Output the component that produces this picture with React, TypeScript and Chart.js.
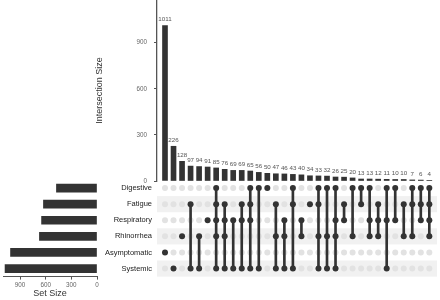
import React, { useEffect, useRef } from "react";
import { Chart, registerables } from "chart.js";
Chart.register(...registerables);

const FONT = "'Liberation Sans', Arial, Helvetica, sans-serif";

const setNames = ["Digestive", "Fatigue", "Respiratory", "Rhinorrhea", "Asymptomatic", "Systemic"];
const setSizes = [474, 626, 648, 673, 1011, 1075];

const intersectionSizes = [
  1011, 226, 128, 97, 94, 91, 85, 76, 69, 69, 65, 56, 50, 47, 46, 43,
  40, 34, 33, 32, 26, 25, 20, 13, 13, 12, 11, 10, 10, 7, 6, 4,
];

const intersectionSets: string[][] = [
  ["Asymptomatic"],
  ["Systemic"],
  ["Rhinorrhea"],
  ["Fatigue", "Systemic"],
  ["Rhinorrhea", "Systemic"],
  ["Respiratory"],
  ["Digestive", "Fatigue", "Respiratory", "Rhinorrhea", "Systemic"],
  ["Fatigue", "Respiratory", "Rhinorrhea", "Systemic"],
  ["Respiratory", "Systemic"],
  ["Fatigue", "Respiratory", "Systemic"],
  ["Digestive", "Fatigue", "Respiratory", "Systemic"],
  ["Digestive", "Systemic"],
  ["Digestive"],
  ["Fatigue", "Rhinorrhea", "Systemic"],
  ["Respiratory", "Rhinorrhea", "Systemic"],
  ["Digestive", "Fatigue", "Systemic"],
  ["Respiratory", "Rhinorrhea"],
  ["Fatigue"],
  ["Digestive", "Fatigue", "Rhinorrhea", "Systemic"],
  ["Digestive", "Rhinorrhea", "Systemic"],
  ["Digestive", "Respiratory", "Rhinorrhea", "Systemic"],
  ["Fatigue", "Respiratory"],
  ["Digestive", "Rhinorrhea"],
  ["Digestive", "Fatigue"],
  ["Digestive", "Respiratory", "Rhinorrhea"],
  ["Fatigue", "Respiratory", "Rhinorrhea"],
  ["Digestive", "Respiratory", "Systemic"],
  ["Digestive", "Respiratory"],
  ["Fatigue", "Rhinorrhea"],
  ["Digestive", "Fatigue", "Rhinorrhea"],
  ["Digestive", "Fatigue", "Respiratory"],
  ["Digestive", "Fatigue", "Respiratory", "Rhinorrhea"],
];

const intersectionTicks = [0, 300, 600, 900];
const setSizeTicks = [0, 300, 600, 900];

const X_MIN = -0.938;
const X_MAX = 31.9;

const DARK = "#333333";
const AXIS = "#555555";

const barLabelPlugin = {
  id: "barLabels",
  afterDatasetsDraw(chart: any) {
    const ctx = chart.ctx;
    const meta = chart.getDatasetMeta(0);
    ctx.save();
    ctx.font = `6.2px ${FONT}`;
    ctx.fillStyle = "#555";
    ctx.textAlign = "center";
    ctx.textBaseline = "bottom";
    meta.data.forEach((el: any, i: number) => {
      ctx.fillText(String(intersectionSizes[i]), el.x, el.y - 3);
    });
    ctx.restore();
  },
};

const stripePlugin = {
  id: "stripes",
  beforeDatasetsDraw(chart: any) {
    const { ctx, chartArea, scales } = chart;
    const y = scales.y;
    const h = Math.abs(y.getPixelForValue(1) - y.getPixelForValue(0));
    ctx.save();
    ctx.fillStyle = "#f1f1f1";
    setNames.forEach((_, i) => {
      if (i % 2 === 1) {
        const c = y.getPixelForValue(i);
        ctx.fillRect(chartArea.left, c - h / 2, chartArea.right - chartArea.left, h);
      }
    });
    ctx.restore();
  },
};

const noScalePadding = (s: any) => {
  s.paddingTop = 0;
  s.paddingBottom = 0;
  s.paddingLeft = 0;
  s.paddingRight = 0;
};

export default function App() {
  const barRef = useRef<HTMLCanvasElement>(null);
  const matRef = useRef<HTMLCanvasElement>(null);
  const setRef = useRef<HTMLCanvasElement>(null);

  useEffect(() => {
    Chart.defaults.font.family = FONT;

    const barChart = new Chart(barRef.current!, {
      type: "bar",
      data: {
        datasets: [
          {
            data: intersectionSizes.map((v, i) => ({ x: i, y: v })),
            backgroundColor: DARK,
            barThickness: 5,
          },
        ],
      },
      options: {
        responsive: false,
        animation: false,
        layout: { autoPadding: false, padding: { left: 94, right: 3, top: 0, bottom: 9 } },
        plugins: { legend: { display: false }, tooltip: { enabled: false } },
        scales: {
          x: { type: "linear", min: X_MIN, max: X_MAX, display: false, offset: false },
          y: {
            type: "linear",
            min: 0,
            max: 1178,
            afterBuildTicks: (s: any) => {
              s.ticks = intersectionTicks.map((v) => ({ value: v }));
            },
            afterFit: (s: any) => {
              s.width = 63;
              noScalePadding(s);
            },
            grid: { drawOnChartArea: false, drawTicks: true, tickLength: 3, color: AXIS },
            border: { display: true, color: AXIS, width: 1.3 },
            ticks: { padding: 7, color: "#666", font: { size: 6.3, family: FONT } },
            title: {
              display: true,
              text: "Intersection Size",
              color: "#333",
              font: { size: 9, family: FONT },
              padding: 0,
            },
          },
        },
      } as any,
      plugins: [barLabelPlugin],
    });

    const inactive: { x: number; y: number }[] = [];
    const active: { x: number; y: number }[] = [];
    const connectors: { x: number; y: [number, number] }[] = [];
    intersectionSets.forEach((sets, c) => {
      const rows = sets.map((s) => setNames.indexOf(s));
      setNames.forEach((_, r) => {
        if (rows.includes(r)) active.push({ x: c, y: r });
        else inactive.push({ x: c, y: r });
      });
      if (rows.length > 1) {
        connectors.push({ x: c, y: [Math.min(...rows), Math.max(...rows)] });
      }
    });

    const matChart = new Chart(matRef.current!, {
      type: "bar",
      data: {
        datasets: [
          {
            type: "scatter",
            data: active,
            backgroundColor: DARK,
            borderColor: DARK,
            pointRadius: 3,
            pointBorderWidth: 0,
            borderWidth: 0,
            order: 0,
          } as any,
          {
            type: "bar",
            data: connectors,
            backgroundColor: DARK,
            barThickness: 2,
            order: 1,
          } as any,
          {
            type: "scatter",
            data: inactive,
            backgroundColor: "#e2e2e2",
            borderColor: "#e2e2e2",
            pointRadius: 3,
            pointBorderWidth: 0,
            borderWidth: 0,
            order: 2,
          } as any,
        ],
      },
      options: {
        responsive: false,
        animation: false,
        layout: { autoPadding: false, padding: { left: 0, right: 3, top: 5, bottom: 8.4 } },
        plugins: { legend: { display: false }, tooltip: { enabled: false } },
        scales: {
          x: { type: "linear", min: X_MIN, max: X_MAX, display: false, offset: false },
          y: {
            type: "linear",
            min: -0.5,
            max: 5.5,
            reverse: true,
            offset: false,
            grid: { display: false, drawTicks: false },
            border: { display: false },
            afterBuildTicks: (s: any) => {
              s.ticks = setNames.map((_, i) => ({ value: i }));
            },
            afterFit: (s: any) => {
              s.width = 57;
              noScalePadding(s);
            },
            ticks: {
              padding: 5,
              color: "#222",
              font: { size: 7.5, family: FONT },
              callback: (v: any) => setNames[v],
            },
          },
        },
      } as any,
      plugins: [stripePlugin],
    });

    const setChart = new Chart(setRef.current!, {
      type: "bar",
      data: {
        datasets: [
          {
            data: setSizes.map((v, i) => ({ x: v, y: i })),
            backgroundColor: DARK,
            barThickness: 8,
          },
        ],
      },
      options: {
        indexAxis: "y",
        responsive: false,
        animation: false,
        layout: { autoPadding: false, padding: { left: 3, right: 3, top: 5, bottom: 0 } },
        plugins: { legend: { display: false }, tooltip: { enabled: false } },
        scales: {
          y: {
            type: "linear",
            min: -0.5,
            max: 5.5,
            reverse: true,
            display: false,
            offset: false,
            afterFit: noScalePadding,
          },
          x: {
            type: "linear",
            min: 0,
            max: 1099,
            reverse: true,
            offset: false,
            afterBuildTicks: (s: any) => {
              s.ticks = setSizeTicks.map((v) => ({ value: v }));
            },
            afterFit: (s: any) => {
              s.height = 23.4;
              noScalePadding(s);
            },
            grid: { drawOnChartArea: false, drawTicks: true, tickLength: 3, color: AXIS },
            border: { display: true, color: AXIS, width: 1 },
            ticks: { padding: 2, color: "#666", maxRotation: 0, font: { size: 6.3, family: FONT } },
            title: {
              display: true,
              text: "Set Size",
              color: "#333",
              font: { size: 9, family: FONT },
              padding: { top: 0, bottom: 1 },
            },
          },
        },
      } as any,
    });

    return () => {
      barChart.destroy();
      matChart.destroy();
      setChart.destroy();
    };
  }, []);

  return (
    <div style={{ position: "absolute", left: 0, top: 0, width: 440, height: 300, background: "#fff" }}>
      <canvas ref={barRef} width={440} height={190} style={{ position: "absolute", left: 0, top: 0 }} />
      <canvas ref={matRef} width={340} height={110} style={{ position: "absolute", left: 100, top: 175 }} />
      <canvas ref={setRef} width={100} height={125} style={{ position: "absolute", left: 0, top: 175 }} />
    </div>
  );
}
